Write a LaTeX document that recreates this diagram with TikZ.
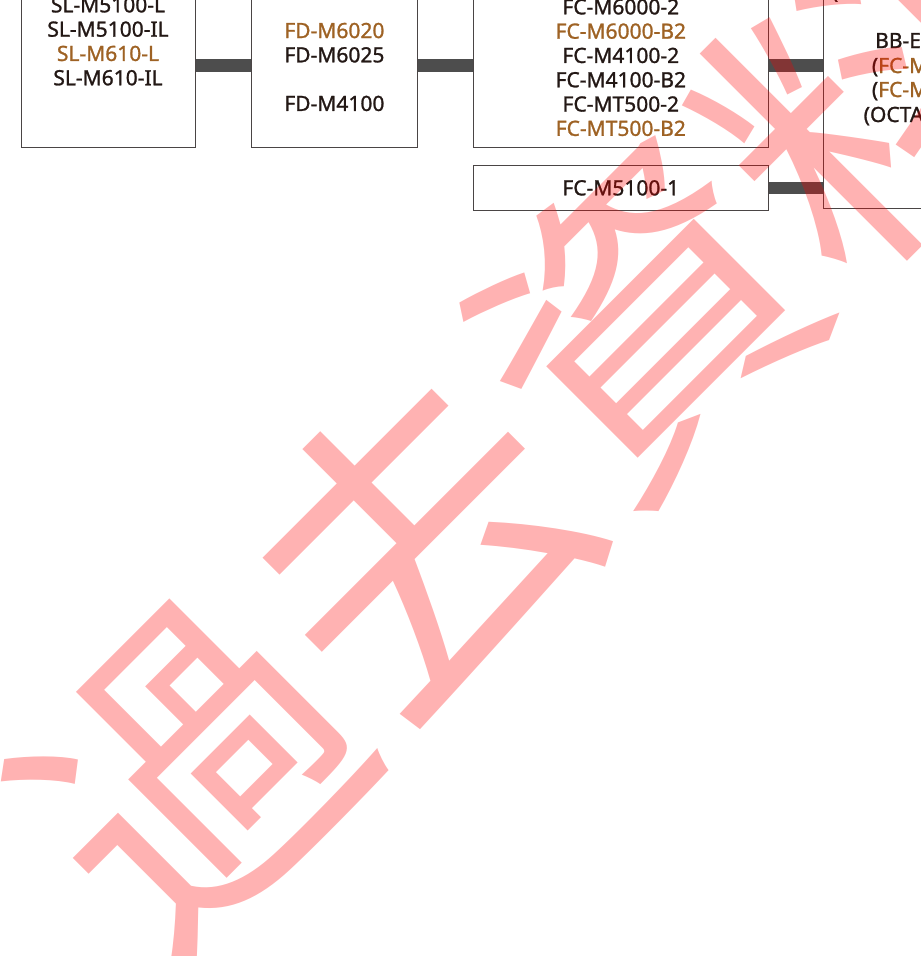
\documentclass[tikz,border=0pt]{standalone}
\usepackage{fontspec}
\usepackage{xcolor}
\usetikzlibrary{positioning}

\newfontfamily\lblfont{Noto Sans}[FakeBold=1.2]
\newfontfamily\wmfont{Noto Sans CJK JP}
\definecolor{txt}{HTML}{231815}
\definecolor{brn}{HTML}{9E6224}
\definecolor{barc}{HTML}{4D4D4D}
\definecolor{edge}{HTML}{4A4545}
\newcommand{\brn}[1]{\textcolor{brn}{#1}}

\begin{document}
\begin{tikzpicture}[
        x=1pt, y=-1pt,
        node distance=17.7pt and 55pt,
        every node/.style={font=\lblfont\fontsize{21}{24.3}\selectfont, text=txt},
        box/.style={draw=edge, line width=1pt, rectangle, inner sep=0pt, align=center},
        part/.style={anchor=base west, inner sep=0pt},
        bar/.style={draw=barc, line width=12.5pt},
        wmk/.style={font=\wmfont\fontsize{320}{320}\selectfont, text=red, text opacity=0.3,
            inner sep=0pt, text height=281.6pt, text depth=38.4pt}
    ]
    \useasboundingbox (0,0) rectangle (921,956);
    \clip (0,0) rectangle (921,956);

    \node[box, minimum width=174pt, minimum height=211.4pt] (sl) at (108,41.3) {SL-M5100-L\\SL-M5100-IL\\\brn{SL-M610-L}\\SL-M610-IL};
    \node[box, minimum width=165.3pt, minimum height=160pt] (fd) at (334.4,67) {\brn{FD-M6020}\\FD-M6025\\[24.3pt]FD-M4100};
    \node[box, minimum width=295pt, minimum height=158.8pt] (fc) at (620.8,67.6) {FC-M6000-2\\\brn{FC-M6000-B2}\\FC-M4100-2\\FC-M4100-B2\\FC-MT500-2\\\brn{FC-MT500-B2}};
    \node[box, minimum width=295pt, minimum height=44.3pt, below=of fc] (fc4) {FC-M5100-1};
    \node[box, minimum width=230pt, minimum height=260pt, anchor=south west] (bb) at (822.7,209) {};

    % text of the cut box on the right
    \node[part] (bb0) at (831.7,-1.5) {(};
    \node[part] (bb1) at (875,48) {BB-E};
    \node[part] (bb2) at (871.7,73) {(\brn{FC-M}};
    \node[part] (bb3) at (871.7,97) {(\brn{FC-M}};
    \node[part] (bb4) at (863.5,122) {(OCTA};

    \coordinate (upper) at (0,65.5);
    \draw[bar] (sl.east |- upper) -- (fd.west |- upper);
    \draw[bar] (fd.east |- upper) -- (fc.west |- upper);
    \draw[bar] (fc.east |- upper) -- (bb.west |- upper);
    \draw[bar] (fc4.east) -- (fc4.east -| bb.west);

    % watermark
    \node[wmk, rotate=45] (stamp) at (530,431) {過去資料};
\end{tikzpicture}
\end{document}
